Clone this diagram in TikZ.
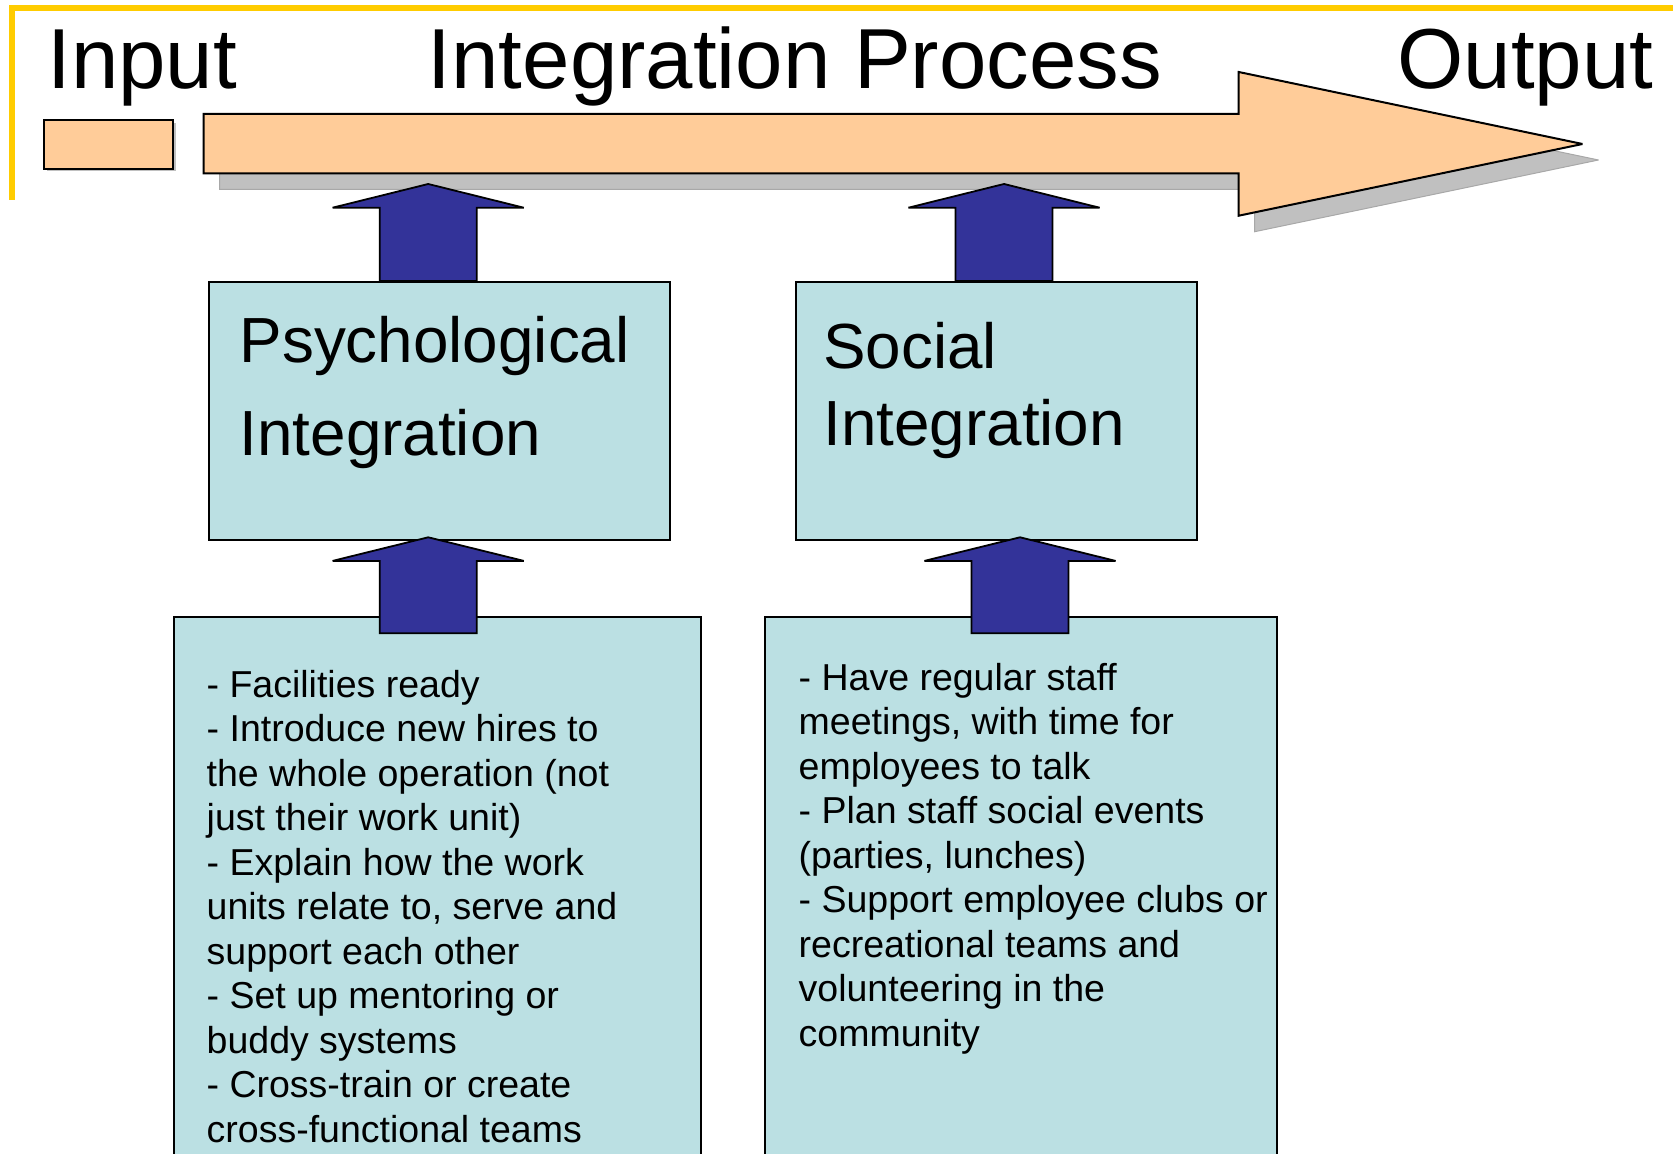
\documentclass[tikz,border=0pt]{standalone}
\usepackage{fontspec}
\setmainfont{Liberation Sans}
\usetikzlibrary{calc}
\definecolor{peach}{HTML}{FFCC99}
\definecolor{boxfill}{HTML}{BBE0E3}
\definecolor{arrowblue}{HTML}{333399}
\definecolor{shadegray}{HTML}{C0C0C0}
\definecolor{shadeedge}{HTML}{A8A8A8}
\definecolor{ybar}{HTML}{FFCC00}
\begin{document}
\begin{tikzpicture}[x=0.5pt,y=-0.5pt,
  frameline/.style={draw=ybar, line width=2.85pt},
  peachshape/.style={draw=black, fill=peach, line width=1pt, line join=miter, miter limit=3},
  shadowshape/.style={draw=shadeedge, fill=shadegray, line width=0.5pt, miter limit=3},
  tbox/.style={draw=black, fill=boxfill, line width=1pt, inner sep=0pt, anchor=north west},
  bluearrow/.style={draw=black, fill=arrowblue, line width=0.9pt, line join=miter, miter limit=3},
  titletext/.style={anchor=base west, inner sep=0pt, font=\fontsize{42.6}{50}\selectfont},
  headpsy/.style={anchor=north west, inner sep=0pt, align=left, font=\fontsize{31.9}{46.65}\selectfont},
  headsoc/.style={anchor=north west, inner sep=0pt, align=left, font=\fontsize{31.9}{38.35}\selectfont},
  listtext/.style={anchor=north west, inner sep=0pt, align=left, font=\fontsize{18.75}{22.25}\selectfont}
]
\useasboundingbox (0,0) rectangle (1673,1154);
\clip (0,0) rectangle (1673,1154);

% yellow frame
\draw[frameline] (12.2,200) -- (12.2,8) -- (1680,8);

% input rectangle with shadow
\fill[shadegray] (46.8,122.8) rectangle (175.8,171.2);
\node[peachshape, inner sep=0pt, minimum width=64.5pt, minimum height=24.2pt, anchor=north west] (inrect) at (43.3,119.3) {};

% process arrow with shadow
\path[shadowshape] (219.7,130) -- (1254.7,130) -- (1254.7,88) -- (1598.5,160) -- (1254.7,231.7) -- (1254.7,189.3) -- (219.7,189.3) -- cycle;
\path[peachshape] (203.7,114) -- (1238.7,114) -- (1238.7,72) -- (1582.5,144) -- (1238.7,215.7) -- (1238.7,173.3) -- (203.7,173.3) -- cycle;

% titles
\node[titletext] (tin) at (47,88.3) {Input};
\node[titletext] (tproc) at (427.5,88.3) {Integration Process};
\node[titletext] (tout) at (1397,88.3) {Output};

% integration boxes
\node[tbox, minimum width=230.35pt, minimum height=128.85pt] (psych) at (207.9,281) {};
\node[tbox, minimum width=200.5pt, minimum height=128.85pt] (social) at (795.3,281) {};
\node[headpsy] (psychhead) at (239.2,296.4) {\strut Psychological\\Integration};
\node[headsoc] (socialhead) at (823,314.6) {\strut Social\\Integration};

% lower list boxes
\node[tbox, minimum width=263.75pt, minimum height=274pt] (psychlist) at (172.5,616) {};
\node[tbox, minimum width=256pt, minimum height=274pt] (sociallist) at (764,616) {};
\node[listtext] (psychtext) at (206.3,665.55) {\strut - Facilities ready\\
- Introduce new hires to\\
the whole operation (not\\
just their work unit)\\
- Explain how the work\\
units relate to, serve and\\
support each other\\
- Set up mentoring or\\
buddy systems\\
- Cross-train or create\\
cross-functional teams};
\node[listtext] (socialtext) at (798.3,658.85) {\strut - Have regular staff\\
meetings, with time for\\
employees to talk\\
- Plan staff social events\\
(parties, lunches)\\
- Support employee clubs or\\
recreational teams and\\
volunteering in the\\
community};

% blue block arrows (upper: box -> process arrow)
\path[bluearrow] (428.2,184) -- (523.8,207.7) -- (476.7,207.7) -- (476.7,0 |- psych.north) -- (379.7,0 |- psych.north) -- (379.7,207.7) -- (332.6,207.7) -- cycle;
\path[bluearrow] (1004,184) -- (1099.6,207.7) -- (1052.5,207.7) -- (1052.5,0 |- social.north) -- (955.5,0 |- social.north) -- (955.5,207.7) -- (908.4,207.7) -- cycle;

% blue block arrows (lower: list -> box)
\path[bluearrow] (428.2,537.3) -- (523.8,560.9) -- (476.7,560.9) -- (476.7,633.3) -- (379.7,633.3) -- (379.7,560.9) -- (332.6,560.9) -- cycle;
\path[bluearrow] (1020,537.3) -- (1115.6,560.9) -- (1068.5,560.9) -- (1068.5,633.3) -- (971.5,633.3) -- (971.5,560.9) -- (924.4,560.9) -- cycle;
\end{tikzpicture}
\end{document}
